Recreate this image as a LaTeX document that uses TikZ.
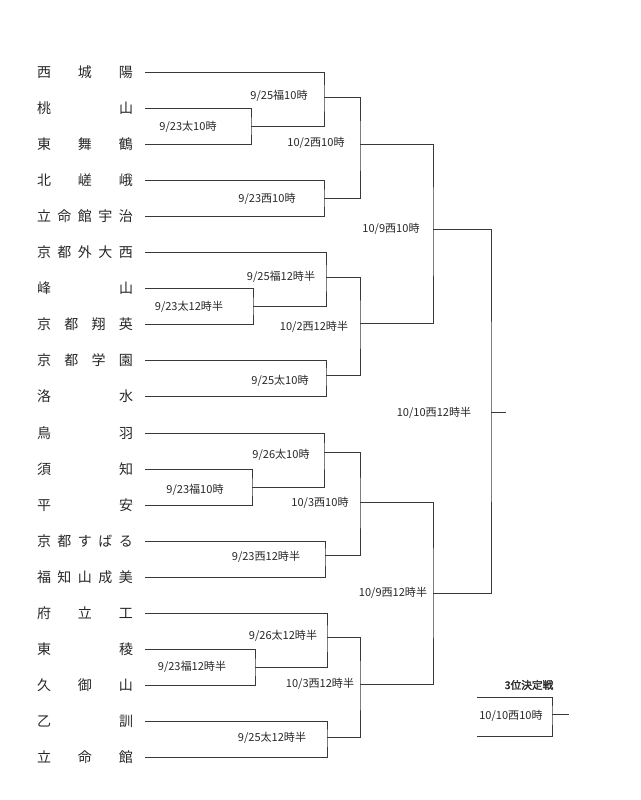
\documentclass[tikz,border=0pt]{standalone}
\usepackage{fontspec}
\newfontfamily\cjk{Noto Sans CJK JP}
\newfontfamily\cjkb[FakeBold=2]{Noto Sans CJK JP}
\definecolor{ln}{HTML}{3C3838}
\definecolor{tx}{HTML}{2A2626}
\tikzset{
  team/.style={anchor=east, inner sep=0pt, outer xsep=9pt, font=\cjk\fontsize{10.5}{12}\selectfont, text=tx},
  lab/.style={inner sep=0pt, font=\cjk\fontsize{8.3}{9}\selectfont, text=tx},
  br/.style={draw=ln, line width=0.65pt},
}
\newcommand{\tm}[1]{\makebox[72pt][s]{#1}}
\begin{document}
\begin{tikzpicture}[x=0.75pt,y=-0.75pt]
\useasboundingbox (0,0) rectangle (640,800);
% teams
\node[team] (t1) at (145,72) {\tm{西\hfill 城\hfill 陽}};
\node[team] (t2) at (145,108) {\tm{桃\hfill 山}};
\node[team] (t3) at (145,144) {\tm{東\hfill 舞\hfill 鶴}};
\node[team] (t4) at (145,180) {\tm{北\hfill 嵯\hfill 峨}};
\node[team] (t5) at (145,216) {\tm{立\hfill 命\hfill 館\hfill 宇\hfill 治}};
\node[team] (t6) at (145,252) {\tm{京\hfill 都\hfill 外\hfill 大\hfill 西}};
\node[team] (t7) at (145,288) {\tm{峰\hfill 山}};
\node[team] (t8) at (145,324) {\tm{京\hfill 都\hfill 翔\hfill 英}};
\node[team] (t9) at (145,360) {\tm{京\hfill 都\hfill 学\hfill 園}};
\node[team] (t10) at (145,396) {\tm{洛\hfill 水}};
\node[team] (t11) at (145,433) {\tm{鳥\hfill 羽}};
\node[team] (t12) at (145,469) {\tm{須\hfill 知}};
\node[team] (t13) at (145,505) {\tm{平\hfill 安}};
\node[team] (t14) at (145,541) {\tm{京\hfill 都\hfill す\hfill ば\hfill る}};
\node[team] (t15) at (145,577) {\tm{福\hfill 知\hfill 山\hfill 成\hfill 美}};
\node[team] (t16) at (145,613) {\tm{府\hfill 立\hfill 工}};
\node[team] (t17) at (145,649) {\tm{東\hfill 稜}};
\node[team] (t18) at (145,685) {\tm{久\hfill 御\hfill 山}};
\node[team] (t19) at (145,721) {\tm{乙\hfill 訓}};
\node[team] (t20) at (145,757) {\tm{立\hfill 命\hfill 館}};
% junctions
\coordinate (m1) at (251,126);
\coordinate (m2) at (324,97);
\coordinate (m3) at (324,198);
\coordinate (m4) at (360,144);
\coordinate (m5) at (253,306);
\coordinate (m6) at (326,277);
\coordinate (m7) at (326,375);
\coordinate (m8) at (360,323);
\coordinate (m9) at (433,229);
\coordinate (m10) at (252,487);
\coordinate (m11) at (324,452);
\coordinate (m12) at (325,555);
\coordinate (m13) at (360,502);
\coordinate (m14) at (255,667);
\coordinate (m15) at (327,637);
\coordinate (m16) at (327,737);
\coordinate (m17) at (360,684);
\coordinate (m18) at (433,593);
\coordinate (m19) at (491,412);
\coordinate (fin) at (506,412);
% bracket lines
\draw[br] (t2.east) -| (m1) |- (t3.east);
\draw[br] (t1.east) -| (m2) |- (m1);
\draw[br] (t4.east) -| (m3) |- (t5.east);
\draw[br] (m2) -| (m4) |- (m3);
\draw[br] (t7.east) -| (m5) |- (t8.east);
\draw[br] (t6.east) -| (m6) |- (m5);
\draw[br] (t9.east) -| (m7) |- (t10.east);
\draw[br] (m6) -| (m8) |- (m7);
\draw[br] (m4) -| (m9) |- (m8);
\draw[br] (t12.east) -| (m10) |- (t13.east);
\draw[br] (t11.east) -| (m11) |- (m10);
\draw[br] (t14.east) -| (m12) |- (t15.east);
\draw[br] (m11) -| (m13) |- (m12);
\draw[br] (t17.east) -| (m14) |- (t18.east);
\draw[br] (t16.east) -| (m15) |- (m14);
\draw[br] (t19.east) -| (m16) |- (t20.east);
\draw[br] (m15) -| (m17) |- (m16);
\draw[br] (m13) -| (m18) |- (m17);
\draw[br] (m9) -| (m19) |- (m18);
\draw[br] (m19) -- (fin);
% labels
\node[lab] (l1) at (279,96) {9/25福10時};
\node[lab] (l2) at (188,127) {9/23太10時};
\node[lab] (l3) at (316,143) {10/2西10時};
\node[lab] (l4) at (267,199) {9/23西10時};
\node[lab] (l5) at (281,277) {9/25福12時半};
\node[lab] (l6) at (189,307) {9/23太12時半};
\node[lab] (l7) at (314,327) {10/2西12時半};
\node[lab] (l8) at (280,381) {9/25太10時};
\node[lab] (l9) at (391,229) {10/9西10時};
\node[lab] (l10) at (281,455) {9/26太10時};
\node[lab] (l11) at (195,490) {9/23福10時};
\node[lab] (l12) at (320,503) {10/3西10時};
\node[lab] (l13) at (266,557) {9/23西12時半};
\node[lab] (l14) at (283,636) {9/26太12時半};
\node[lab] (l15) at (192,667) {9/23福12時半};
\node[lab] (l16) at (320,684) {10/3西12時半};
\node[lab] (l17) at (272,738) {9/25太12時半};
\node[lab] (l18) at (393,593) {10/9西12時半};
\node[lab] (l19) at (434,413) {10/10西12時半};
% third place
\node[lab, font=\cjkb\fontsize{8}{9}\selectfont] (tp) at (529,685) {3位決定戦};
\coordinate (p1) at (477,697);
\coordinate (p2) at (477,736);
\coordinate (q) at (552,714);
\coordinate (q2) at (569,714);
\draw[br] (p1) -| (q) |- (p2);
\draw[br] (q) -- (q2);
\node[lab] (l20) at (511,716) {10/10西10時};
\end{tikzpicture}
\end{document}
